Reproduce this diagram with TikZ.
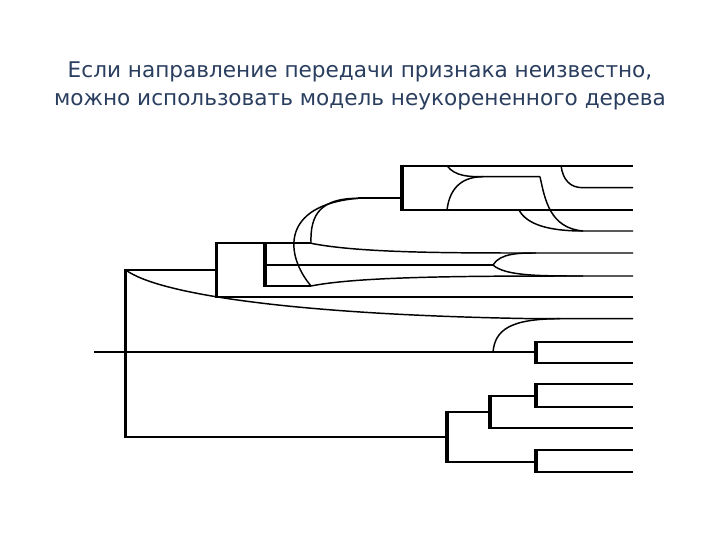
\documentclass[tikz,border=0pt]{standalone}
\usepackage{fontspec}
\setmainfont{DejaVu Sans}
\definecolor{ttlc}{RGB}{42,62,95}
\begin{document}
\begin{tikzpicture}[x=0.75pt,y=-0.75pt,
  hl/.style={line width=1.3pt},
  vl/.style={line width=2.6pt},
  cv/.style={line width=1.1pt},
  ttl/.style={text=ttlc, font=\fontsize{16.2}{19}\selectfont}]
\fill[white] (0,0) rectangle (720,540);
\node[ttl] (t1) at (360,72) {Если направление передачи признака неизвестно,};
\node[ttl] (t2) at (360,102) {можно использовать модель неукорененного дерева};
% root
\draw[hl] (94,352) -- (536,352);
\draw[vl] (125.7,268.5) -- (125.7,438);
\draw[hl] (125.7,270) -- (216.7,270);
\draw[hl] (125.7,436.7) -- (447,436.7);
% upper clade
\draw[vl] (216.7,242) -- (216.7,298);
\draw[hl] (216.7,243.3) -- (265,243.3);
\draw[hl] (216.7,296.7) -- (633,296.7);
\draw[vl] (265,242) -- (265,287);
\draw[hl] (265,243.3) -- (311,243.3);
\draw[hl] (265,265) -- (493,265);
\draw[hl] (265,286) -- (311,286);
\draw[cv] (311,243.3) .. controls (360,253) and (450,253) .. (536,253) -- (633,253);
\draw[cv] (493,265) .. controls (500,253) and (520,253) .. (536,253);
\draw[cv] (493,265) .. controls (505,276) and (540,276) .. (583,276) -- (633,276);
\draw[cv] (311,286) .. controls (360,276) and (480,276) .. (583,276);
\draw[cv] (311,286) .. controls (285,255) and (280,205) .. (358,198.3);
\draw[cv] (311,243.3) .. controls (310,215) and (320,198.3) .. (358,198.3);
\draw[hl] (358,198.3) -- (402,198.3);
% top clade
\draw[vl] (402,164.5) -- (402,211);
\draw[hl] (402,165.7) -- (633,165.7);
\draw[hl] (402,210) -- (633,210);
\draw[cv] (447,165.7) .. controls (455,176.7) and (470,176.7) .. (483,176.7) -- (540,176.7);
\draw[cv] (447,210) .. controls (450,185) and (465,176.7) .. (483,176.7);
\draw[cv] (540,176.7) .. controls (545,200) and (550,228) .. (583,231) -- (633,231);
\draw[cv] (519,210) .. controls (527,225) and (550,231) .. (583,231);
\draw[cv] (561,165.7) .. controls (563,180) and (570,187.7) .. (583,187.7) -- (633,187.7);
% sweeping root curve
\draw[cv] (125.7,270) .. controls (160,295) and (300,315) .. (536,318.7) -- (633,318.7);
\draw[cv] (493,352) .. controls (495,330) and (510,318.7) .. (560,318.7);
% middle pair
\draw[vl] (536,340.5) -- (536,364);
\draw[hl] (536,341.7) -- (633,341.7);
\draw[hl] (536,362.7) -- (633,362.7);
% bottom clade
\draw[vl] (447,410.5) -- (447,463);
\draw[hl] (447,411.7) -- (490,411.7);
\draw[hl] (447,461.7) -- (536,461.7);
\draw[vl] (490,394.5) -- (490,429);
\draw[hl] (490,395.7) -- (536,395.7);
\draw[hl] (490,428) -- (633,428);
\draw[vl] (536,383) -- (536,408);
\draw[hl] (536,384) -- (633,384);
\draw[hl] (536,406.7) -- (633,406.7);
\draw[vl] (536,449) -- (536,473);
\draw[hl] (536,450) -- (633,450);
\draw[hl] (536,471.7) -- (633,471.7);
\end{tikzpicture}
\end{document}
